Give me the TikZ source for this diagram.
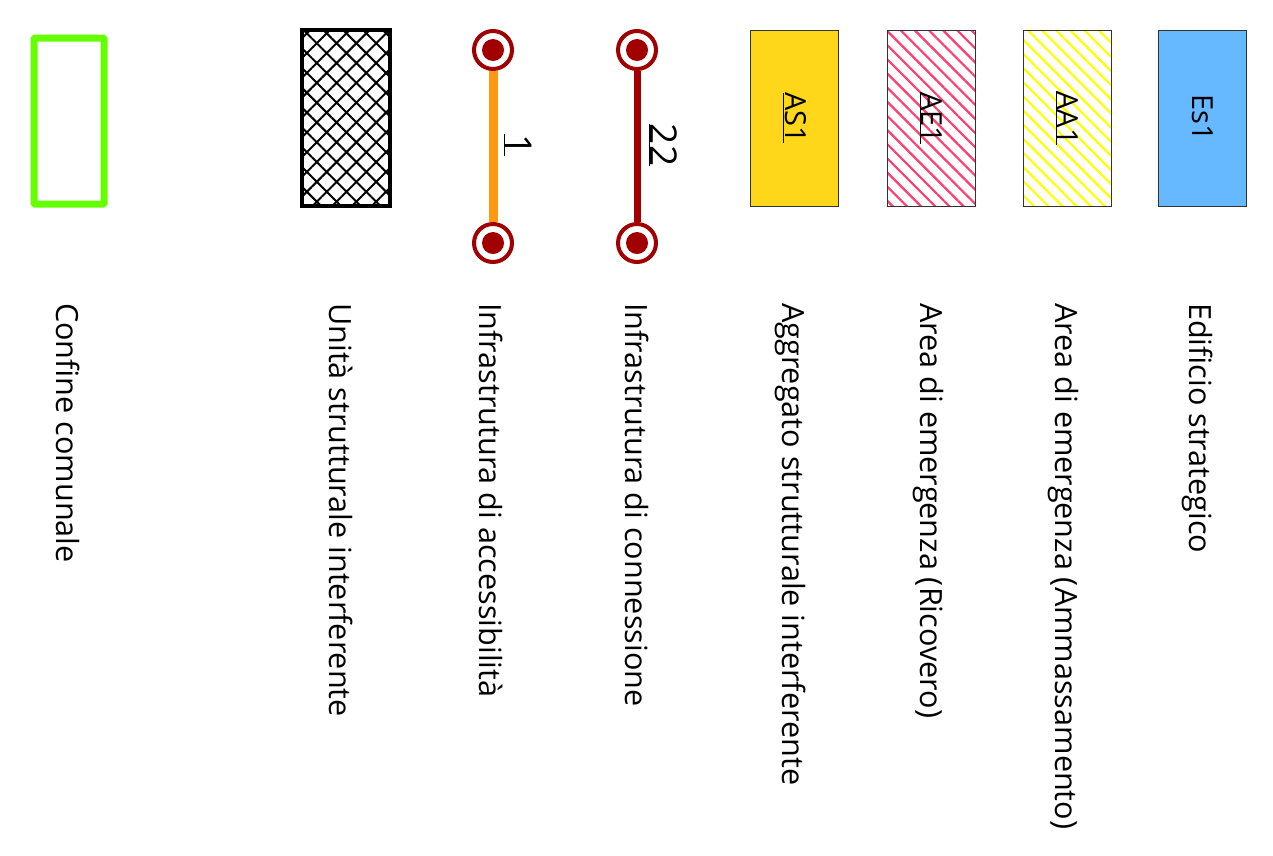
\documentclass[tikz,border=0pt]{standalone}
\usepackage{fontspec}
\setmainfont{Open Sans}
\usetikzlibrary{patterns.meta}
\definecolor{bluEs}{HTML}{66B9FF}
\definecolor{giallo}{HTML}{FFFF00}
\definecolor{rosa}{HTML}{FF3D6E}
\definecolor{oro}{HTML}{FFD71A}
\definecolor{rossoscuro}{HTML}{A00000}
\definecolor{arancio}{HTML}{FF9A10}
\definecolor{verde}{HTML}{66FF00}
\tikzset{
  voce/.style={rotate=-90,anchor=west,inner sep=0pt,font=\fontsize{30.6}{36}\selectfont},
  scatola/.style={draw=black!80,line width=1pt,minimum width=88pt,minimum height=176pt,inner sep=0pt},
  sigla/.style={rotate=-90,font=\fontsize{29}{34}\selectfont},
  nodo/.style={shape=circle,draw=rossoscuro,line width=4pt,fill=white,minimum size=38pt,inner sep=0pt,
    path picture={\fill[rossoscuro] (path picture bounding box.center) circle (11pt);}},
}
\begin{document}
\begin{tikzpicture}[x=1pt,y=-1pt]
\useasboundingbox (0,0) rectangle (1273,855);

%Le scatole
\node[scatola,fill=bluEs] (es) at (1202.5,118) {};
\node[scatola,pattern={Lines[angle=-45,distance=10pt,line width=2.2pt]},pattern color=giallo] (aa) at (1067,118) {};
\node[scatola,pattern={Lines[angle=-45,distance=10pt,line width=2.2pt]},pattern color=rosa] (ae) at (931,118) {};
\node[scatola,fill=oro] (as) at (794.5,118) {};
\node[scatola,line width=3.5pt,draw=black,pattern={Hatch[angle=45,distance=14pt,line width=2pt]},pattern color=black] (usi) at (346,118) {};
\node[draw=verde,line width=7pt,rounded corners=1pt,minimum width=70pt,minimum height=166pt,inner sep=0pt] (cc) at (69,121) {};

\node[sigla] (esl) at (es) {Es1};
\node[sigla] (aal) at (aa) {\underline{AA1}};
\node[sigla] (ael) at (ae) {\underline{AE1}};
\node[sigla] (asl) at (as) {\underline{AS1}};

%Ora le infrastrutture
\node[nodo] (c1) at (637,50) {};
\node[nodo] (c2) at (637,243) {};
\node[nodo] (a1) at (493,50) {};
\node[nodo] (a2) at (493,243) {};
\draw[rossoscuro,line width=7pt] (c1) -- (c2);
\draw[arancio,line width=9pt] (a1) -- (a2);
\node[rotate=-90,font=\fontsize{37}{42}\selectfont] (cn) at (663,145) {\underline{22}};
\node[rotate=-90,font=\fontsize{37}{42}\selectfont] (an) at (518,145) {\underline{1}};

%Le voci
\node[voce] (t1) at (1198,303) {Edificio strategico};
\node[voce] (t2) at (1063,303) {Area di emergenza (Ammassamento)};
\node[voce] (t3) at (928,303) {Area di emergenza (Ricovero)};
\node[voce] (t4) at (791,303) {Aggregato strutturale interferente};
\node[voce] (t5) at (637,303) {Infrastrutura di connessione};
\node[voce] (t6) at (491,303) {Infrastrutura di accessibilità};
\node[voce] (t7) at (341,303) {Unità strutturale interferente};
\node[voce] (t8) at (68,303) {Confine comunale};
\end{tikzpicture}
\end{document}
